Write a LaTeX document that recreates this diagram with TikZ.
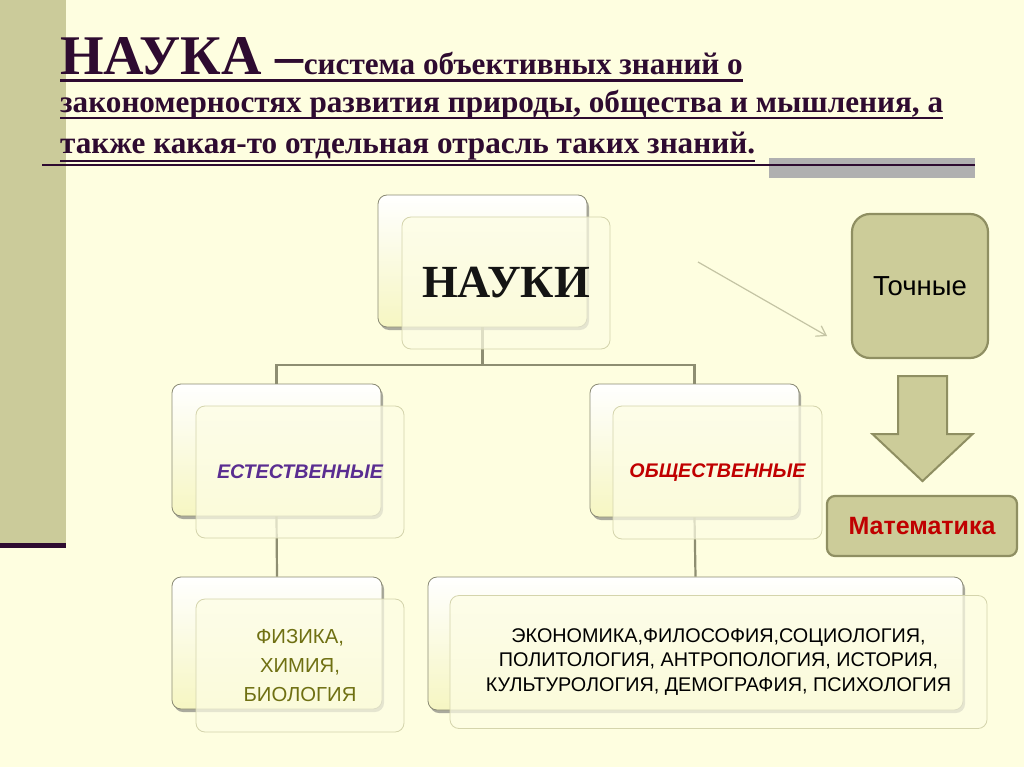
\documentclass[tikz,border=0pt]{standalone}
\usepackage{fontspec}
\setmainfont{Liberation Serif}
\setsansfont{Liberation Sans}
\usetikzlibrary{shadows,arrows.meta,calc}
\definecolor{bg}{HTML}{FEFEE0}
\definecolor{bar}{HTML}{CBCB9A}
\definecolor{titlecol}{HTML}{2E0B30}
\definecolor{olivefill}{HTML}{CCCC99}
\definecolor{oliveline}{HTML}{8F8F62}
\definecolor{boxline}{HTML}{8A8A74}
\definecolor{boxyel}{HTML}{F6F6C2}
\definecolor{frontline}{HTML}{D4D4AC}
\definecolor{frontfill}{HTML}{FDFDE4}
\definecolor{conn}{HTML}{8E8E72}
\definecolor{thinarrow}{HTML}{C4C4A4}
\definecolor{purp}{HTML}{5A2D91}
\definecolor{redtxt}{HTML}{C00000}
\definecolor{olivetxt}{HTML}{6F7013}
\definecolor{graybar}{HTML}{B0B0B0}
\tikzset{
  backbox/.style={draw=boxline, line width=0.8pt, rounded corners=9pt,
    top color=white, bottom color=boxyel, inner sep=0pt,
    drop shadow={shadow xshift=2pt, shadow yshift=-3pt, fill=black!60, opacity=0.55}},
  frontbox/.style={draw=frontline, line width=0.8pt, rounded corners=9pt,
    fill=frontfill, fill opacity=0.72, text opacity=1, inner sep=0pt, align=center},
  olivebox/.style={draw=oliveline, fill=olivefill, line width=2.2pt, inner sep=0pt},
  connector/.style={draw=conn, line width=2.2pt},
  titlebig/.style={inner sep=0pt, text=titlecol, font=\fontsize{56}{56}\selectfont\bfseries},
  titlesmall/.style={inner sep=0pt, text=titlecol, font=\fontsize{31.2}{31.2}\selectfont\bfseries},
  uline/.style={draw=titlecol, line width=2.6pt}
}
\begin{document}
\begin{tikzpicture}[x=1pt,y=-1pt]
\useasboundingbox (0,0) rectangle (1024,767);
\fill[bg] (0,0) rectangle (1024,767);
% left bar
\fill[bar] (0,0) rectangle (66,543);
\fill[titlecol] (0,543) rectangle (66,548);
% gray bar under title
\fill[graybar] (769,158) rectangle (975,178);

% title
\node[titlebig, anchor=base west] (t1a) at (60,75) {НАУКА –};
\node[titlesmall, anchor=base west] (t1b) at (t1a.base east) {система объективных знаний о};
\node[titlesmall, anchor=base west] (t2) at (60,113) {закономерностях развития природы, общества и мышления, а};
\node[titlesmall, anchor=base west] (t3) at (60,154) {также какая-то отдельная отрасль таких знаний.};
\draw[uline] ([yshift=-5.5pt]t1a.base west) -- ([yshift=-5.5pt]t1b.base east);
\draw[uline] ([yshift=-5pt]t2.base west) -- ([yshift=-5pt]t2.base east);
\draw[uline] ([yshift=-7pt]t3.base west) -- ([yshift=-7pt]t3.base east);
\coordinate (u3a) at (42,165);
\coordinate (u3b) at (975,165);
\draw[uline] (u3a) -- (u3b);

% back boxes
\node[backbox, minimum width=209pt, minimum height=132pt] (nb) at (482.5,261) {};
\node[backbox, minimum width=209pt, minimum height=132pt] (eb) at (276.5,450) {};
\node[backbox, minimum width=209pt, minimum height=133pt] (ob) at (694.5,450.5) {};
\node[backbox, minimum width=210pt, minimum height=132pt] (pb) at (277,643) {};
\node[backbox, minimum width=535pt, minimum height=133pt] (sb) at (695.5,643.5) {};

% connectors
\coordinate (hj) at (482.5,365);
\draw[connector] (nb.south) -- (hj) -| (eb.north);
\draw[connector] (hj) -| (ob.north);
\draw[connector] (eb.south) -- (pb.north);
\draw[connector] (ob.south) -- (sb.north);

% front boxes
\node[frontbox, minimum width=208pt, minimum height=132pt,
  font=\fontsize{46}{46}\selectfont\bfseries, text=black!92] (nf) at (506,283) {НАУКИ};
\node[frontbox, minimum width=208pt, minimum height=132pt,
  font=\sffamily\fontsize{19.7}{19.7}\selectfont\bfseries\itshape, text=purp] (ef) at (300,472) {ЕСТЕСТВЕННЫЕ};
\node[frontbox, minimum width=209pt, minimum height=133pt,
  font=\sffamily\fontsize{19.7}{19.7}\selectfont\bfseries\itshape, text=redtxt] (of) at (717.5,472.5) {ОБЩЕСТВЕННЫЕ};
\node[frontbox, minimum width=208pt, minimum height=133pt,
  font=\sffamily\fontsize{20.3}{29}\selectfont, text=olivetxt] (pf) at (300,665.5) {ФИЗИКА,\\ХИМИЯ,\\БИОЛОГИЯ};
\node[frontbox, minimum width=537pt, minimum height=133pt,
  font=\sffamily\fontsize{19.8}{24.5}\selectfont, text=black] (sf) at (718.5,662)
  {ЭКОНОМИКА,ФИЛОСОФИЯ,СОЦИОЛОГИЯ,\\ПОЛИТОЛОГИЯ, АНТРОПОЛОГИЯ, ИСТОРИЯ,\\КУЛЬТУРОЛОГИЯ, ДЕМОГРАФИЯ, ПСИХОЛОГИЯ};
\path[use as bounding box] (0,0) rectangle (1024,767);

% right side
\node[olivebox, rounded corners=18pt, minimum width=136pt, minimum height=144pt,
  font=\sffamily\fontsize{27.5}{27.5}\selectfont, text=black] (tb) at (920,286) {Точные};
\node[olivebox, rounded corners=8pt, minimum width=190pt, minimum height=60pt,
  font=\sffamily\fontsize{25}{25}\selectfont\bfseries, text=redtxt] (mb) at (922,526) {Математика};

% thin arrow
\coordinate (a1) at (698,262);
\coordinate (a2) at (827,336);
\draw[thinarrow, line width=1.2pt, -{Straight Barb[length=9pt,width=12pt]}] (a1) -- (a2);

% block arrow between Точные and Математика
\coordinate (ba) at ([xshift=2.5pt,yshift=-17pt]tb.south);
\draw[olivebox, line width=2pt, line join=miter]
  ([xshift=-24.5pt]ba) -- ([xshift=24.5pt]ba) -- ++(0,58) -- ++(25.5,0)
  -- ($(ba)+(0,105)$) -- ++(-50,-47) -- ++(25.5,0) -- cycle;
\end{tikzpicture}
\end{document}
